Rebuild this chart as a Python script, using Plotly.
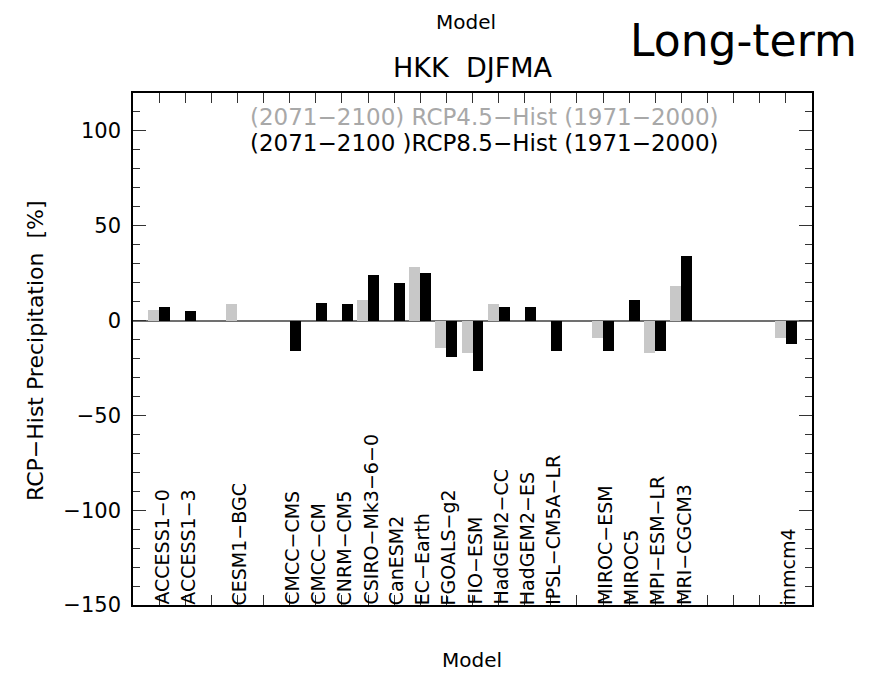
import plotly.graph_objects as go

# ---- data -------------------------------------------------------------
slots = list(range(1, 26))
models = ["ACCESS1-0", "ACCESS1-3", "", "CESM1-BGC", "", "CMCC-CMS", "CMCC-CM",
          "CNRM-CM5", "CSIRO-Mk3-6-0", "CanESM2", "EC-Earth", "FGOALS-g2", "FIO-ESM",
          "HadGEM2-CC", "HadGEM2-ES", "IPSL-CM5A-LR", "", "MIROC-ESM", "MIROC5",
          "MPI-ESM-LR", "MRI-CGCM3", "", "", "", "inmcm4"]
rcp45 = [5.7, None, None, 8.9, None, None, None, None, 11.0, None, 28.5, -14.5, -17.1,
         8.9, None, None, None, -9.2, None, -17.1, 18.4, None, None, None, -9.2]
rcp85 = [7.3, 5.1, None, None, None, -15.9, 9.4, 8.9, 23.9, 20.0, 25.3, -19.3, -26.5,
         7.3, 7.3, -15.9, None, -15.9, 11.0, -15.9, 34.3, None, None, None, -12.4]
ytick_vals = [-150, -100, -50, 0, 50, 100]

FONT = "DejaVu Sans"

fig = go.Figure()
fig.add_trace(go.Bar(x=slots, y=rcp45, width=0.42, offset=-0.42,
                     marker=dict(color="#c8c8c8", line=dict(width=0)), showlegend=False))
fig.add_trace(go.Bar(x=slots, y=rcp85, width=0.42, offset=0.0,
                     marker=dict(color="#000000", line=dict(width=0)), showlegend=False))

# model names along the bottom, rotated
for s, m in zip(slots, models):
    if m:
        fig.add_annotation(x=s, y=-150, xref="x", yref="y", text=m.replace("-", "\u2212"),
                           textangle=-90, xanchor="center", yanchor="bottom",
                           showarrow=False, xshift=2, yshift=-2,
                           font=dict(family=FONT, size=19, color="black"))

W, H = 880, 673
L, R, T, B = 133, 68, 93, 68
pw, ph = W - L - R, H - T - B


def px(x):
    return (x - L) / pw


def py(y):
    return (H - B - y) / ph


texts = [
    dict(text="Model", x=px(466), y=py(22), xanchor="center", size=20, color="black"),
    dict(text="HKK  DJFMA", x=px(472), y=py(67), xanchor="center", size=27, color="black"),
    dict(text="Long-term", x=px(628), y=py(40), xanchor="left", size=44, color="black"),
    dict(text="(2071\u22122100) RCP4.5\u2212Hist (1971\u22122000)", x=px(248), y=py(117),
         xanchor="left", size=23, color="#a8a8a8"),
    dict(text="(2071\u22122100 )RCP8.5\u2212Hist (1971\u22122000)", x=px(248), y=py(143),
         xanchor="left", size=23, color="black"),
    dict(text="Model", x=px(472), y=py(660), xanchor="center", size=20, color="black"),
]
for t in texts:
    fig.add_annotation(text=t["text"], x=t["x"], y=t["y"], xref="paper", yref="paper",
                       xanchor=t["xanchor"], yanchor="middle", showarrow=False,
                       font=dict(family=FONT, size=t["size"], color=t["color"]))

fig.add_annotation(text="RCP\u2212Hist Precipitation  [%]", x=px(35), y=py(351),
                   xref="paper", yref="paper", textangle=-90, xanchor="center",
                   yanchor="middle", showarrow=False,
                   font=dict(family=FONT, size=22, color="black"))

fig.update_layout(
    width=W, height=H,
    margin=dict(l=L, r=R, t=T, b=B, pad=0),
    paper_bgcolor="white", plot_bgcolor="white",
    barmode="overlay", bargap=0,
    font=dict(family=FONT, color="black"),
    xaxis=dict(range=[0, 26], tickvals=list(range(0, 27)), ticks="inside", ticklen=10,
               tickcolor="#333333", tickwidth=1.2, showticklabels=False, showgrid=False,
               zeroline=False, showline=True, linecolor="black", linewidth=1.5,
               mirror="ticks"),
    yaxis=dict(range=[-150, 120], tickvals=ytick_vals, ticks="inside", ticklen=13,
               tickcolor="#333333", tickwidth=1.2, showgrid=False,
               zeroline=True, zerolinecolor="#707070", zerolinewidth=2,
               showline=True, linecolor="black", linewidth=1.5, mirror="ticks",
               tickfont=dict(family=FONT, size=21, color="black"),
               ticklabelstandoff=6,
               minor=dict(tickvals=list(range(-150, 121, 10)), ticks="inside", ticklen=7,
                          tickcolor="#333333", tickwidth=1.2, showgrid=False)),
)

fig.write_html("out.html", config={"displayModeBar": False},
               post_script="document.body.style.margin='0';")
